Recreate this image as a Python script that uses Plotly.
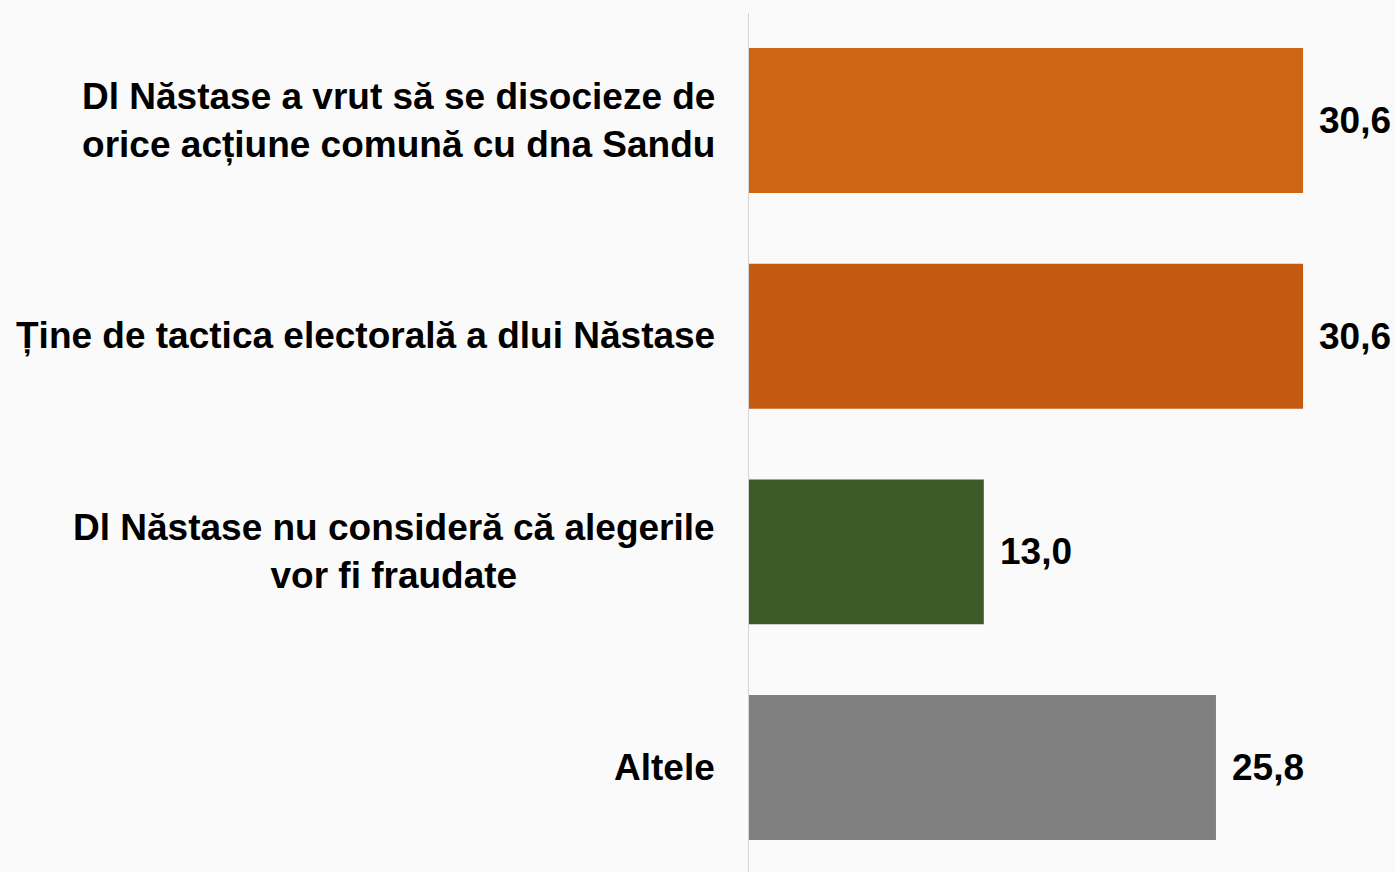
import plotly.graph_objects as go

categories = [
    "Dl Năstase a vrut să se disocieze de<br>orice acțiune comună cu dna Sandu",
    "Ține de tactica electorală a dlui Năstase",
    "Dl Năstase nu consideră că alegerile<br>vor fi fraudate",
    "Altele",
]
values = [30.6, 30.6, 13.0, 25.8]
colors = ["#CD6513", "#C45A12", "#3B5A25", "#808080"]

W, H = 1395, 872
ML, MR, MT, MB = 748, 0, 13, 0
FONT = "Liberation Sans, Arial, sans-serif"

fig = go.Figure()
fig.add_trace(go.Bar(
    x=values,
    y=list(range(len(categories))),
    orientation="h",
    marker=dict(color=colors, line=dict(width=0)),
    width=0.672,
    hoverinfo="skip",
))

annotations = []
for i, (c, v) in enumerate(zip(categories, values)):
    annotations.append(dict(
        x=0, xref="paper", y=i, yref="y", text=c, showarrow=False,
        xanchor="right", yanchor="middle", xshift=-31, align="center",
        font=dict(family=FONT, size=37, color="#000000", weight="bold"),
    ))
    annotations.append(dict(
        x=v, xref="x", y=i, yref="y", text=f"{v:.1f}".replace(".", ","), showarrow=False,
        xanchor="left", yanchor="middle", xshift=14,
        font=dict(family=FONT, size=37, color="#000000", weight="bold"),
    ))

fig.update_layout(
    width=W, height=H,
    margin=dict(l=ML, r=MR, t=MT, b=MB, pad=0),
    paper_bgcolor="#FAFAFA",
    plot_bgcolor="rgba(0,0,0,0)",
    showlegend=False,
    annotations=annotations,
    xaxis=dict(range=[0, 35.67], visible=False, fixedrange=True),
    yaxis=dict(range=[3.4845, -0.4985], showticklabels=False, showgrid=False,
               zeroline=False, showline=False, fixedrange=True),
    shapes=[dict(type="line", xref="x", yref="paper", x0=0, x1=0, y0=0, y1=1,
                 line=dict(color="#D4D4D4", width=2), layer="above")],
)

fig.write_html("out.html", config={"displayModeBar": False},
               post_script="document.body.style.margin='0';document.body.style.overflow='hidden';")
